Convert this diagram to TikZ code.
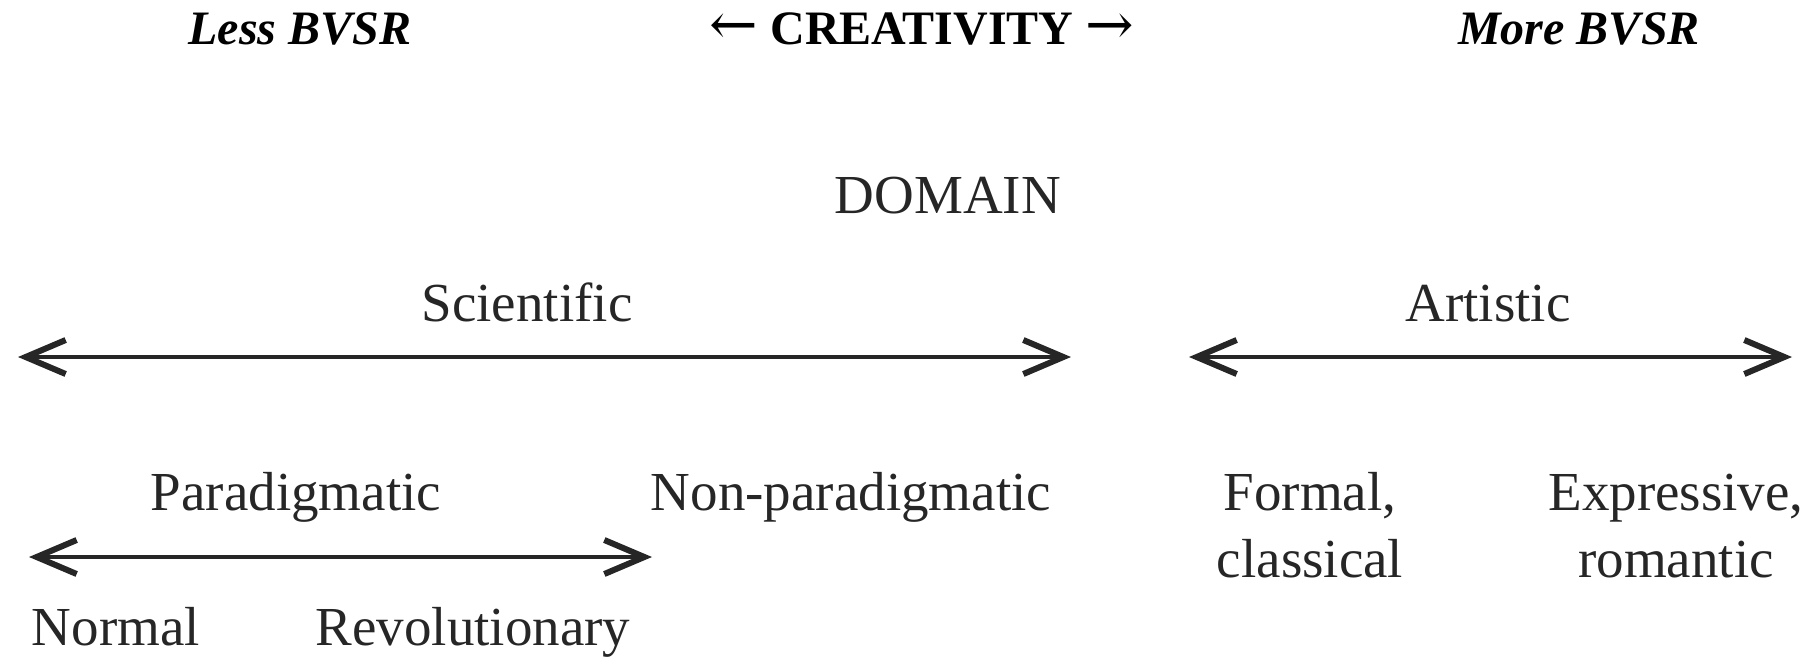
\documentclass[tikz,border=0pt]{standalone}
\usepackage{fontspec}
\setmainfont{Liberation Serif}
\newfontfamily\arrowfont{DejaVu Serif}
\usetikzlibrary{arrows.meta}
\definecolor{ink}{HTML}{262626}
\newcommand{\larrow}{{\arrowfont\mdseries\fontsize{58}{58}\selectfont ←}}
\newcommand{\rarrow}{{\arrowfont\mdseries\fontsize{58}{58}\selectfont →}}
\begin{document}
\begin{tikzpicture}[x=1pt,y=-1pt,
  head/.style={font=\fontsize{48}{56}\selectfont\bfseries, anchor=base, inner sep=0pt, text=black},
  lbl/.style={font=\fontsize{55}{67}\selectfont, anchor=base, inner sep=0pt, text=ink},
  span/.style={draw=ink, line width=4.5pt,
    {Straight Barb[length=40pt, width=34pt, line width=6pt]}-{Straight Barb[length=40pt, width=34pt, line width=6pt]}}]
\useasboundingbox (0,0) rectangle (1819,659);

% header row
\node[head] (less) at (300,44) {\itshape Less BVSR};
\node[head] (crea) at (922,44) {\larrow{} CREATIVITY \rarrow};
\node[head] (more) at (1579,44) {\itshape More BVSR};

% domain level
\node[lbl] (domain) at (948,213) {DOMAIN};
\node[lbl] (sci) at (527,321) {Scientific};
\node[lbl] (art) at (1488,321) {Artistic};
\coordinate (sciL) at (18,357);
\coordinate (sciR) at (1071,357);
\coordinate (artL) at (1189,357);
\coordinate (artR) at (1792,357);
\draw[span] (sciL) -- (sciR);
\draw[span] (artL) -- (artR);

% sub-domains (two-line labels sit on the baseline of their last line)
\node[lbl] (para) at (296,510) {Paradigmatic};
\node[lbl] (nonpara) at (851,510) {Non-paradigmatic};
\node[lbl, align=center] (formal) at (1310,577) {Formal,\\classical};
\node[lbl, align=center] (expr) at (1676,577) {Expressive,\\romantic};
\coordinate (paraL) at (29,557);
\coordinate (paraR) at (652,557);
\draw[span] (paraL) -- (paraR);
\node[lbl] (normal) at (116,645) {Normal};
\node[lbl] (revol) at (473,645) {Revolutionary};
\end{tikzpicture}
\end{document}
